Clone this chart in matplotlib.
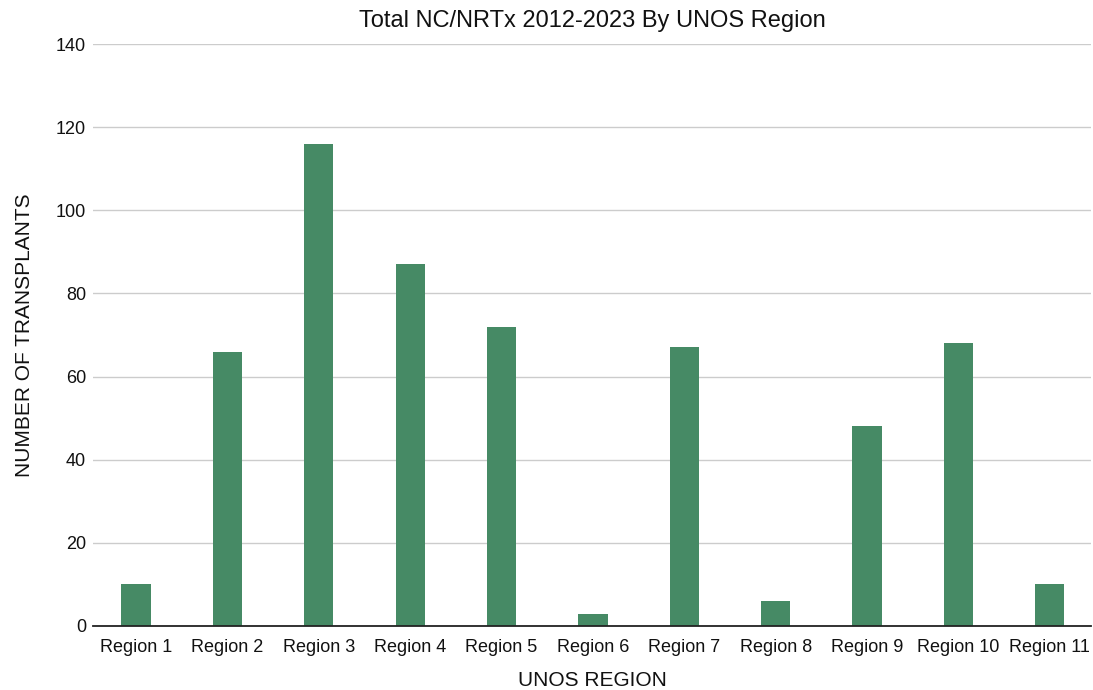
import matplotlib
matplotlib.use("Agg")
import matplotlib.pyplot as plt

categories = ["Region 1", "Region 2", "Region 3", "Region 4", "Region 5", "Region 6",
              "Region 7", "Region 8", "Region 9", "Region 10", "Region 11"]
values = [10, 66, 116, 87, 72, 3, 67, 6, 48, 68, 10]
yticks = [0, 20, 40, 60, 80, 100, 120, 140]

plt.rcParams['font.family'] = ['Liberation Sans', 'DejaVu Sans']

fig = plt.figure(figsize=(10.93, 6.9), dpi=100)
ax = fig.add_axes([93/1093, 1 - 626/690, (1091 - 93)/1093, (626 - 44)/690])

x = range(len(categories))
ax.bar(x, values, width=0.32, color="#468A65", zorder=3)
ax.set_xlim(-0.47, 10.45)
ax.set_ylim(0, 140)
ax.set_yticks(yticks)
ax.set_xticks(list(x))
ax.set_xticklabels(categories)
ax.yaxis.grid(True, color="#cccccc", linewidth=1, zorder=0)
for s in ["top", "right", "left"]:
    ax.spines[s].set_visible(False)
ax.spines["bottom"].set_color("#222222")
ax.spines["bottom"].set_linewidth(1.3)
ax.spines["bottom"].set_zorder(4)
ax.tick_params(axis="x", length=0, labelsize=13, colors="#111111", pad=9)
ax.tick_params(axis="y", length=0, labelsize=13, colors="#111111", pad=5)
ax.set_xlabel("UNOS REGION", fontsize=15, color="#111111", labelpad=11)
ax.set_ylabel("NUMBER OF TRANSPLANTS", fontsize=15, color="#111111", labelpad=16)
ax.set_title("Total NC/NRTx 2012-2023 By UNOS Region", fontsize=17, color="#111111", pad=12)

fig.savefig("out.png", dpi=100)
